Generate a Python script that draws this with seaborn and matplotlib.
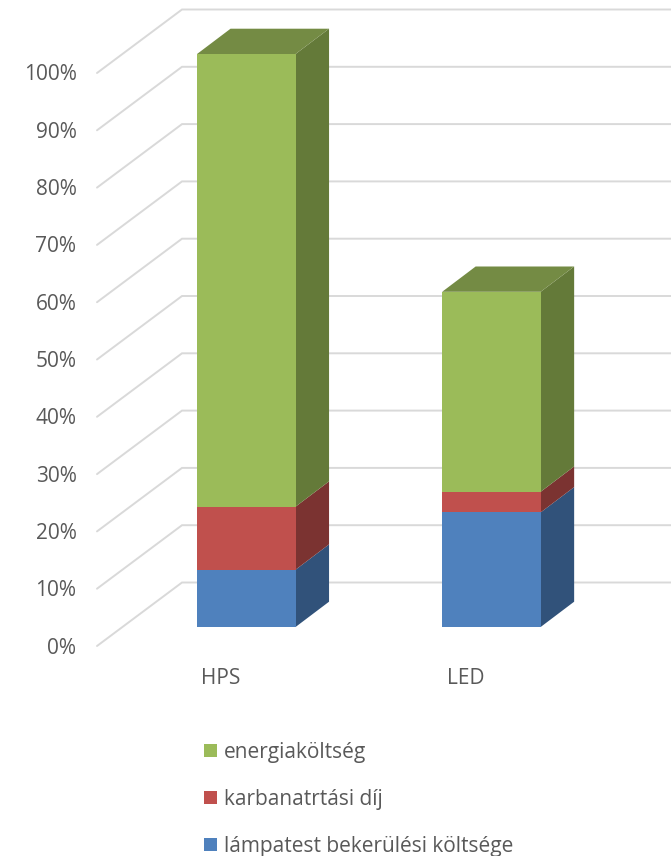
import matplotlib
matplotlib.use("Agg")
import matplotlib.pyplot as plt
from matplotlib.patches import Polygon, Patch
import numpy as np
import pandas as pd
import seaborn as sns

categories = ["HPS", "LED"]
series_names = ["energiaköltség", "karbanatrtási díj", "lámpatest bekerülési költsége"]
lamp_cost = [10.0, 20.0]
maintenance = [11.0, 3.6]
energy = [79.0, 34.9]
tick_values = list(range(0, 101, 10))
front_colors = ["#9BBB59", "#C0504D", "#4F81BD"]
side_colors = ["#647A39", "#7B3331", "#31527A"]
top_color = "#748B44"
grid_color = "#D9D9D9"
text_color = "#595959"

sns.set_theme(style="white")
plt.rcParams["font.family"] = ["Open Sans", "DejaVu Sans"]

W, H = 671, 856
fig = plt.figure(figsize=(W / 100, H / 100), dpi=100, facecolor="white")
ax = fig.add_axes([0, 0, 1, 1])

# axis scale: pixel layout of the reference
PX_X = 245.1          # pixels per category
PX_Y = 5.73           # pixels per percent
X0, Y0 = 246.3, 627   # pixel of category 0 / 0 %
ax_x = lambda px: (px - X0) / PX_X
ax_y = lambda py: (Y0 - py) / PX_Y
DX, DY = 33.5 / PX_X, 25.3 / PX_Y     # bar depth
WIDTH = 98.5 / PX_X
FS = 15

cum_lamp = np.array(lamp_cost)
cum_maint = cum_lamp + np.array(maintenance)
cum_energy = cum_maint + np.array(energy)
df = pd.DataFrame({
    "cat": categories * 3,
    "series": np.repeat(series_names, 2),
    "top": np.concatenate([cum_energy, cum_maint, cum_lamp]),
})

# gridlines: diagonal side wall + horizontal back wall
wall_off = ax_y(582.5)
left_x, corner_x = ax_x(97), ax_x(182)
front_off = ax_y(646)
label_off = ax_y(648)
for v in tick_values:
    ax.plot([left_x, corner_x, ax_x(W + 5)], [v + front_off, v + wall_off, v + wall_off],
            color=grid_color, lw=1.4, solid_joinstyle="miter", zorder=1)
    ax.text(ax_x(76.5), v + label_off, f"{v}%", ha="right", va="center",
            fontsize=FS, color=text_color)

sns.barplot(data=df, x="cat", y="top", hue="series", order=categories, hue_order=series_names,
            palette=front_colors, dodge=False, width=WIDTH, saturation=1, legend=False,
            linewidth=0, ax=ax, zorder=3)
for p in ax.patches:
    p.set_zorder(3)

# 3-D side and top faces
for i in range(len(categories)):
    xr = i + WIDTH / 2
    xl = i - WIDTH / 2
    levels = [0, cum_lamp[i], cum_maint[i], cum_energy[i]]
    for k, col in enumerate(side_colors[::-1]):
        ax.add_patch(Polygon([(xr, levels[k]), (xr + DX, levels[k] + DY),
                              (xr + DX, levels[k + 1] + DY), (xr, levels[k + 1])],
                             facecolor=col, edgecolor="none", zorder=2.5))
    t = levels[-1]
    ax.add_patch(Polygon([(xl, t), (xl + DX, t + DY), (xr + DX, t + DY), (xr, t)],
                         facecolor=top_color, edgecolor="none", zorder=2.5))
    ax.text(ax_x(221 if i == 0 else 465.5), ax_y(679), categories[i], ha="center", va="center",
            fontsize=FS, color=text_color)

ax.set_xlim(ax_x(0), ax_x(W))
ax.set_ylim(ax_y(H), ax_y(0))
ax.axis("off")

handles = [Patch(facecolor=c, edgecolor="none", label=n) for c, n in zip(front_colors, series_names)]
ax.legend(handles=handles, loc="upper left", bbox_to_anchor=(204 / W, 1 - 742 / H),
          frameon=False, fontsize=FS, labelcolor=text_color, borderpad=0, borderaxespad=0,
          handlelength=9.4 / FS, handleheight=9.4 / FS, handletextpad=0.33,
          labelspacing=1.24)

fig.savefig("out.png", dpi=100, facecolor="white")
